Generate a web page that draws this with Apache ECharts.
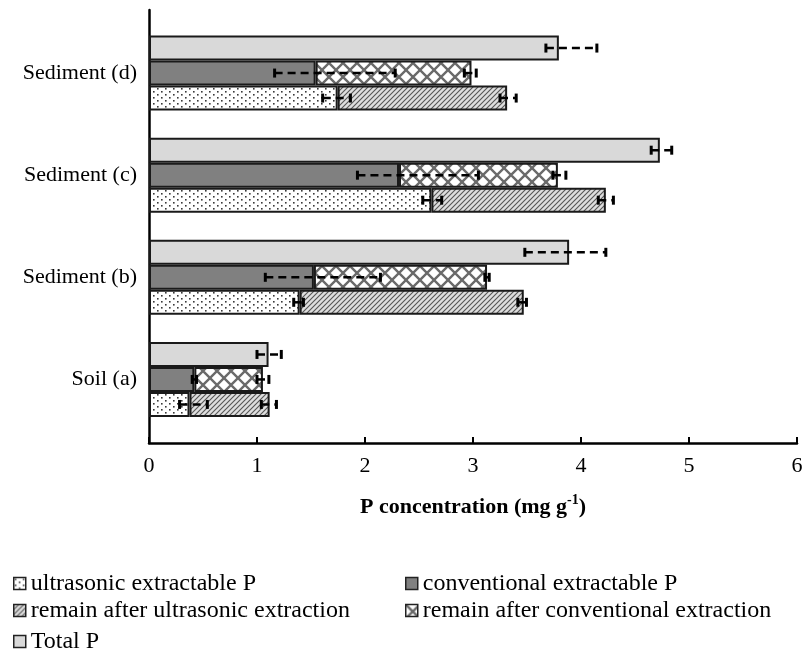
<!DOCTYPE html>
<html>
<head>
<meta charset="utf-8">
<script src="https://cdn.jsdelivr.net/npm/echarts@6/dist/echarts.min.js"></script>
<style>
html, body { margin: 0; padding: 0; background: #fff; }
#chart { width: 806px; height: 658px; }
</style>
</head>
<body>
<div id="chart"></div>
<script>
// Sample groups, bottom to top
const categories = ['Soil (a)', 'Sediment (b)', 'Sediment (c)', 'Sediment (d)'];

// Segment lengths, mg g-1 (stacked segments start where the previous one ends)
const ultrasonicP        = [0.375, 1.395, 2.615, 1.747];
const remainUltrasonic   = [0.742, 2.075, 1.615, 1.569];
const conventionalP      = [0.420, 1.527, 2.315, 1.543];
const remainConventional = [0.635, 1.603, 1.471, 1.443];
const totalP             = [1.107, 3.890, 4.730, 3.795];

// Error bar extents below / above the end of each segment
const ultrasonicErrMinus        = [0.092, 0.055, 0.080, 0.139];
const ultrasonicErrPlus         = [0.165, 0.035, 0.095, 0.118];
const remainUltrasonicErrMinus  = [0.077, 0.055, 0.070, 0.066];
const remainUltrasonicErrPlus   = [0.063, 0.025, 0.070, 0.084];
const conventionalErrMinus      = [0.020, 0.450, 0.385, 0.380];
const conventionalErrPlus       = [0.020, 0.616, 0.735, 0.737];
const remainConventionalErrMinus= [0.055, 0.020, 0.046, 0.066];
const remainConventionalErrPlus = [0.055, 0.020, 0.074, 0.044];
const totalErrMinus             = [0.107, 0.410, 0.080, 0.120];
const totalErrPlus              = [0.118, 0.340, 0.110, 0.352];

// Value axis ticks
const xTicks = [0, 1, 2, 3, 4, 5, 6];

const NAMES = {
  ultra: 'ultrasonic extractable P',
  conv: 'conventional extractable P',
  remUltra: 'remain after ultrasonic extraction',
  remConv: 'remain after conventional extraction',
  total: 'Total P'
};

const FONT = '"Liberation Serif", "Times New Roman", serif';
const BAR_W = 25;
const EDGE = '#1a1a1a';

function tile(w, h, draw) {
  const c = document.createElement('canvas');
  c.width = w; c.height = h;
  draw(c.getContext('2d'), w, h);
  return c;
}

// Fill patterns
const dotTile = tile(8, 6, (g, w, h) => {
  g.fillStyle = '#ffffff'; g.fillRect(0, 0, w, h);
  g.fillStyle = '#3a3a3a';
  g.fillRect(1, 1, 1.6, 1.6);
  g.fillRect(5, 4, 1.6, 1.6);
});
const hatchTile = tile(5, 5, (g, w, h) => {
  g.fillStyle = '#dedede'; g.fillRect(0, 0, w, h);
  g.strokeStyle = '#555555'; g.lineWidth = 1.1;
  g.beginPath();
  g.moveTo(-1, h + 1); g.lineTo(w + 1, -1);
  g.moveTo(-1, 1); g.lineTo(1, -1);
  g.moveTo(w - 1, h + 1); g.lineTo(w + 1, h - 1);
  g.stroke();
});
const crossTile = tile(14, 14, (g, w, h) => {
  g.fillStyle = '#ffffff'; g.fillRect(0, 0, w, h);
  g.strokeStyle = '#6a6a6a'; g.lineWidth = 2.4;
  g.beginPath();
  g.moveTo(-1, -1); g.lineTo(w + 1, h + 1);
  g.moveTo(w + 1, -1); g.lineTo(-1, h + 1);
  g.stroke();
});

const fills = {
  ultra: { image: dotTile, repeat: 'repeat' },
  conv: '#808080',
  remUltra: { image: hatchTile, repeat: 'repeat' },
  remConv: { image: crossTile, repeat: 'repeat' },
  total: '#d9d9d9'
};

function barSeries(key, data, stack) {
  const s = {
    name: NAMES[key],
    type: 'bar',
    xAxisIndex: 1,
    yAxisIndex: 1,
    data: data,
    barWidth: BAR_W,
    barGap: '0%',
    itemStyle: { color: fills[key], borderColor: EDGE, borderWidth: 2 },
    emphasis: { disabled: true },
    z: 2
  };
  if (stack) s.stack = stack;
  return s;
}

// Error bar records: [end, low, high, categoryIndex, row]; row 0 = top bar, 2 = bottom bar
const errData = [];
function addErr(ends, minus, plus, row) {
  ends.forEach((e, i) => errData.push([e, e - minus[i], e + plus[i], i, row]));
}
addErr(totalP, totalErrMinus, totalErrPlus, 0);
addErr(conventionalP, conventionalErrMinus, conventionalErrPlus, 1);
addErr(conventionalP.map((v, i) => v + remainConventional[i]), remainConventionalErrMinus, remainConventionalErrPlus, 1);
addErr(ultrasonicP, ultrasonicErrMinus, ultrasonicErrPlus, 2);
addErr(ultrasonicP.map((v, i) => v + remainUltrasonic[i]), remainUltrasonicErrMinus, remainUltrasonicErrPlus, 2);

const rowOffsets = [-BAR_W, 0, BAR_W];

function renderErr(params, api) {
  const cat = api.value(3);
  const row = api.value(4);
  const a = api.coord([api.value(1), cat]);
  const b = api.coord([api.value(2), cat]);
  const y = a[1] + rowOffsets[row];
  const cap = 4.5;
  return {
    type: 'group',
    children: [
      { type: 'line', shape: { x1: a[0], y1: y, x2: b[0], y2: y },
        style: { stroke: '#000', lineWidth: 2.5, lineDash: [8, 5] } },
      { type: 'line', shape: { x1: a[0], y1: y - cap, x2: a[0], y2: y + cap },
        style: { stroke: '#000', lineWidth: 3 } },
      { type: 'line', shape: { x1: b[0], y1: y - cap, x2: b[0], y2: y + cap },
        style: { stroke: '#000', lineWidth: 3 } }
    ]
  };
}

// One legend entry per slot: two columns, three rows
function legendItem(name, left, top) {
  return {
    left: left,
    top: top,
    orient: 'horizontal',
    data: [name],
    itemWidth: 12,
    itemHeight: 12,
    icon: 'rect',
    selectedMode: false,
    itemStyle: { borderColor: '#222', borderWidth: 1.5 },
    textStyle: { fontFamily: FONT, fontSize: 24, lineHeight: 25, color: '#000' }
  };
}

const chart = echarts.init(document.getElementById('chart'), null, { renderer: 'canvas' });
chart.setOption({
  animation: false,
  backgroundColor: '#ffffff',
  grid: [
    { left: 149, right: 9, top: 10, bottom: 215 },
    { left: 149, right: 9, top: 22, bottom: 227.5 }
  ],
  xAxis: [
    {
      type: 'value', gridIndex: 0, min: xTicks[0], max: xTicks[xTicks.length - 1], interval: 1,
      axisLine: { show: true, onZero: false, lineStyle: { color: '#000', width: 2.5 } },
      axisTick: { show: true, inside: true, length: 6, lineStyle: { color: '#000', width: 2 } },
      axisLabel: { margin: 12, fontFamily: FONT, fontSize: 22, color: '#000' },
      splitLine: { show: false },
      name: '{b|P concentration (mg g}{s|-1}{b|)}',
      nameLocation: 'middle',
      nameGap: 52,
      nameTextStyle: {
        rich: {
          b: { fontFamily: FONT, fontSize: 22, fontWeight: 'bold', color: '#000', lineHeight: 24 },
          s: { fontFamily: FONT, fontSize: 14, fontWeight: 'bold', color: '#000', lineHeight: 24, padding: [0, 0, 13, 0] }
        }
      }
    },
    { type: 'value', gridIndex: 1, min: 0, max: 6, show: false }
  ],
  yAxis: [
    {
      type: 'value', gridIndex: 0, min: 0, max: 1,
      axisLine: { show: true, lineStyle: { color: '#000', width: 2.5 } },
      axisTick: { show: false }, axisLabel: { show: false }, splitLine: { show: false }
    },
    {
      type: 'category', gridIndex: 1, data: categories,
      axisLine: { show: false }, axisTick: { show: false },
      axisLabel: { margin: 12, fontFamily: FONT, fontSize: 22, color: '#000' }
    }
  ],
  legend: [
    legendItem(NAMES.ultra, 8, 566),
    legendItem(NAMES.conv, 400, 566),
    legendItem(NAMES.remUltra, 8, 593),
    legendItem(NAMES.remConv, 400, 593),
    legendItem(NAMES.total, 8, 624)
  ],
  series: [
    barSeries('total', totalP),
    barSeries('conv', conventionalP, 'conventional'),
    barSeries('remConv', remainConventional, 'conventional'),
    barSeries('ultra', ultrasonicP, 'ultrasonic'),
    barSeries('remUltra', remainUltrasonic, 'ultrasonic'),
    {
      type: 'custom',
      xAxisIndex: 1,
      yAxisIndex: 1,
      data: errData,
      encode: { x: [0, 1, 2], y: 3 },
      renderItem: renderErr,
      silent: true,
      z: 5
    }
  ]
});
</script>
</body>
</html>
